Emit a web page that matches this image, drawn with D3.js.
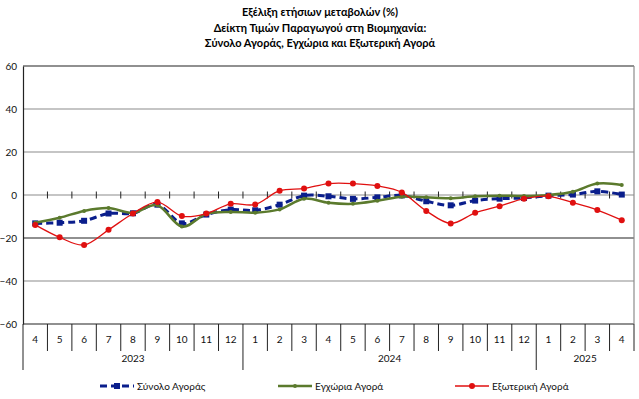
<!DOCTYPE html>
<html><head><meta charset="utf-8">
<script src="https://cdn.jsdelivr.net/npm/d3@7"></script>
<style>body{margin:0;background:#fff;}svg{display:block;font-family:Lato,"Open Sans",sans-serif;}</style>
</head><body>
<svg id="c" width="639" height="399"></svg>
<script>
const titleLines = ["Εξέλιξη ετήσιων μεταβολών (%)", "Δείκτη Τιμών Παραγωγού στη Βιομηχανία:", "Σύνολο Αγοράς, Εγχώρια και Εξωτερική Αγορά"];
const months = ["4","5","6","7","8","9","10","11","12","1","2","3","4","5","6","7","8","9","10","11","12","1","2","3","4"];
const years = [{label:"2023", n:9},{label:"2024", n:12},{label:"2025", n:4}];
const yTicks = [60,40,20,0,-20,-40,-60];
const seriesNames = ["Σύνολο Αγοράς","Εγχώρια Αγορά","Εξωτερική Αγορά"];
const total    = [-13.2,-12.9,-12.0,-8.6,-8.5,-4.5,-13.2,-9.1,-6.8,-7.1,-4.5,-0.3,-0.6,-1.8,-1.1,-0.2,-2.9,-4.8,-2.6,-1.7,-1.4,-0.3,0.2,1.7,0.2];
const domestic = [-12.9,-10.6,-7.4,-6.1,-8.3,-4.8,-14.7,-8.8,-7.9,-8.2,-6.7,-1.7,-3.6,-4.1,-2.7,-0.8,-1.1,-1.5,-0.6,-0.3,-0.5,0.0,1.5,5.3,4.7];
const foreign  = [-13.9,-19.7,-23.2,-16.2,-8.6,-3.3,-9.8,-8.6,-4.1,-4.4,2.0,3.0,5.3,5.3,4.2,1.2,-7.4,-13.2,-8.3,-5.2,-1.7,-0.6,-3.6,-7.0,-11.7];

const svg = d3.select("#c");
const L = 23, R = 634, T = 66, B = 324;
const idx = d3.range(months.length);
const x = d3.scaleBand().domain(idx).range([L, R]).padding(0);
const y = d3.scaleLinear().domain([-60, 60]).range([B, T]);
const cx = i => x(i) + x.bandwidth()/2;

// title
svg.append("g").selectAll("text").data(titleLines).join("text")
  .attr("x", 320).attr("y", (d,i)=>16 + i*15.5).attr("text-anchor","middle")
  .attr("font-size", 11).attr("font-weight","bold").text(d=>d);

// gridlines
svg.append("g").selectAll("line").data(yTicks).join("line")
  .attr("x1", L).attr("x2", R).attr("y1", d=>y(d)).attr("y2", d=>y(d))
  .attr("stroke", d => (d===60||d===-60||d===-20) ? "#222" : "#8c8c8c").attr("stroke-width", 1.2);
// right border
svg.append("line").attr("x1",R).attr("x2",R).attr("y1",T).attr("y2",B).attr("stroke","#8c8c8c").attr("stroke-width",1.2);

// y axis
const yAxis = d3.axisLeft(y).tickValues(yTicks).tickSize(0).tickPadding(6);
const gy = svg.append("g").attr("transform",`translate(${L},0)`).call(yAxis);
gy.select(".domain").attr("stroke","#222").attr("stroke-width",1.2);
gy.selectAll("text").attr("font-size",10).attr("font-family","Lato,'Open Sans',sans-serif").attr("fill","#111");

// zero-line tick marks
const bounds = d3.range(months.length+1).map(i => L + i*x.bandwidth());
svg.append("g").selectAll("line").data(bounds.slice(1,-1)).join("line")
  .attr("x1",d=>d).attr("x2",d=>d).attr("y1",y(0)-3.5).attr("y2",y(0)+3.5)
  .attr("stroke","#222").attr("stroke-width",1);

// bottom category axis with separators
const yearStarts = [0]; years.forEach(yr => yearStarts.push(yearStarts[yearStarts.length-1]+yr.n));
svg.append("g").selectAll("line").data(bounds).join("line")
  .attr("x1",d=>d).attr("x2",d=>d).attr("y1",B)
  .attr("y2",(d,i)=> (yearStarts.includes(i) && i < months.length) ? 370 : 351)
  .attr("stroke","#222").attr("stroke-width",1);
svg.append("g").selectAll("text").data(months).join("text")
  .attr("x",(d,i)=>cx(i)).attr("y",343).attr("text-anchor","middle")
  .attr("font-size",10).attr("fill","#111").text(d=>d);
svg.append("g").selectAll("text").data(years).join("text")
  .attr("x",(d,i)=> (x(yearStarts[i]) + L + yearStarts[i+1]*x.bandwidth())/2).attr("y",362)
  .attr("text-anchor","middle").attr("font-size",10).attr("fill","#111").text(d=>d.label);

// series
const line = d3.line().x((d,i)=>cx(i)).y(d=>y(d)).curve(d3.curveCardinal.tension(0));
const styles = [
  {data: total, color:"#0a1e8c", width:3, dash:"7,4", marker:"square"},
  {data: domestic, color:"#5b7a2d", width:2.5, dash:null, marker:"plus"},
  {data: foreign, color:"#e01010", width:1.3, dash:null, marker:"circle"}
];
function drawMarker(g, s, px, py){
  if (s.marker==="square") g.append("rect").attr("x",px-3).attr("y",py-3).attr("width",6).attr("height",6).attr("fill",s.color);
  else if (s.marker==="circle") g.append("circle").attr("cx",px).attr("cy",py).attr("r",3).attr("fill",s.color);
  else { g.append("circle").attr("cx",px).attr("cy",py).attr("r",2).attr("fill",s.color); }
}
styles.forEach(s=>{
  const g = svg.append("g");
  g.append("path").datum(s.data).attr("d",line).attr("fill","none").attr("stroke",s.color)
    .attr("stroke-width",s.width).attr("stroke-dasharray",s.dash);
  s.data.forEach((v,i)=>drawMarker(g,s,cx(i),y(v)));
});

// legend
const legX = [100, 278, 455];
const lg = svg.append("g");
styles.forEach((s,k)=>{
  const x0 = legX[k], ly = 386;
  lg.append("line").attr("x1",x0).attr("x2",x0+34).attr("y1",ly).attr("y2",ly).attr("stroke",s.color)
    .attr("stroke-width",s.width).attr("stroke-dasharray",s.dash);
  drawMarker(lg,s,x0+17,ly);
  lg.append("text").attr("x",x0+37).attr("y",ly+3.5).attr("font-size",10).attr("fill","#111").text(seriesNames[k]);
});
</script>
</body></html>
